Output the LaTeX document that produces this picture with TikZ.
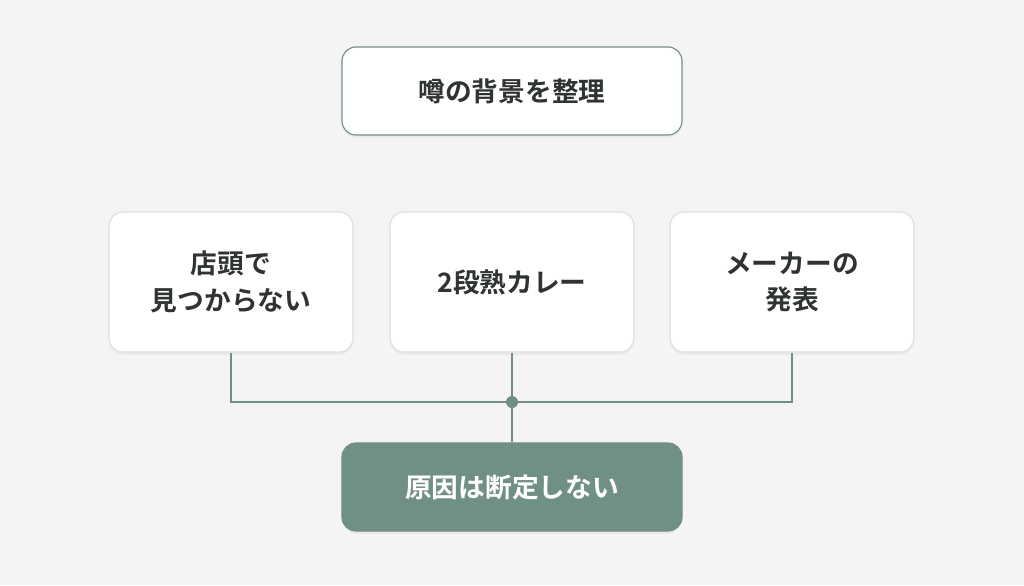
\documentclass[tikz,border=0pt]{standalone}
\usepackage{fontspec}
\setmainfont{Noto Sans CJK JP}[BoldFont={* Bold}]
\usetikzlibrary{positioning,shadows}
\definecolor{bgc}{HTML}{F3F4F3}
\definecolor{sage}{HTML}{6F9082}
\definecolor{ink}{HTML}{2F3432}
\definecolor{edgec}{HTML}{DDE0DE}
\tikzset{
  box/.style={draw=edgec,line width=0.8pt,fill=white,rounded corners=10pt,
    minimum width=6.1cm,minimum height=3.5cm,align=center,text=ink,
    font=\fontsize{19}{26}\selectfont\bfseries,
    drop shadow={shadow xshift=0pt,shadow yshift=-2pt,opacity=0.08}},
  head/.style={box,draw=sage,minimum width=8.5cm,minimum height=2.2cm},
  result/.style={box,draw=sage,fill=sage,text=white,minimum width=8.5cm,minimum height=2.2cm},
  link/.style={draw=sage,line width=1.2pt}
}
\begin{document}
\begin{tikzpicture}[x=0.025cm,y=-0.025cm]
  \fill[bgc] (0,0) rectangle (1024,585);
  \useasboundingbox (0,0) rectangle (1024,585);
  \node[head] (top) at (512,91) {噂の背景を整理};
  \node[box] (left) at (231,282) {店頭で\\見つからない};
  \node[box] (mid) at (512,282) {2段熟カレー};
  \node[box] (right) at (792,282) {メーカーの\\発表};
  \node[result] (res) at (512,487) {原因は断定しない};
  \coordinate (hub) at (512,402);
  \path[link] (left.south) |- (hub) -| (right.south);
  \path[link] (mid.south) -- (hub) -- (res.north);
  \fill[sage] (hub) circle (6);
\end{tikzpicture}
\end{document}
